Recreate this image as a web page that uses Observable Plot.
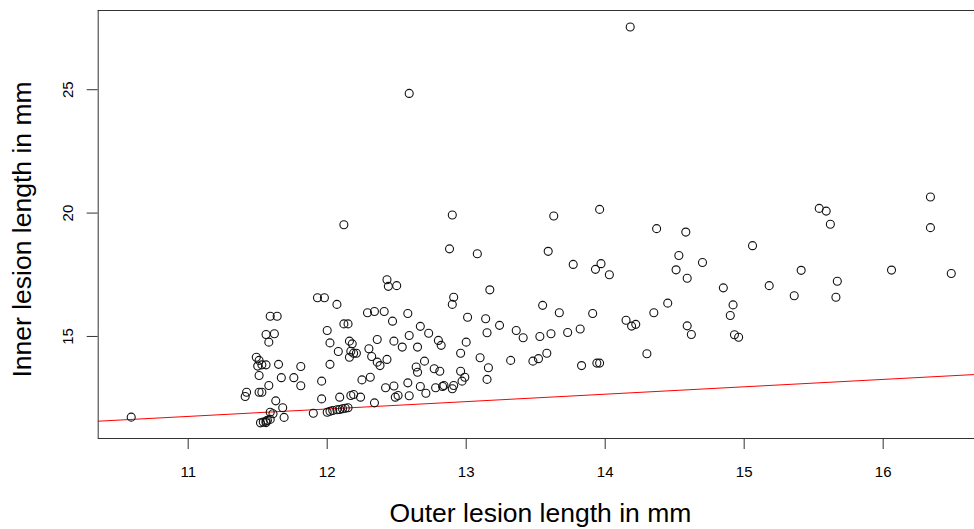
<!DOCTYPE html>
<html>
<head>
<meta charset="utf-8">
<script src="https://cdn.jsdelivr.net/npm/d3@7"></script>
<script src="https://cdn.jsdelivr.net/npm/@observablehq/plot@0.6"></script>
<style>
  html, body { margin: 0; padding: 0; background: #fff; overflow: hidden; }
  #chart svg { display: block; }
</style>
</head>
<body>
<div id="chart"></div>
<script>
// Outer lesion length (mm)
const outerLen = [
  10.59, 11.42, 11.41, 11.49, 11.51, 11.50, 11.53, 11.56, 11.51, 11.51,
  11.53, 11.58, 11.59, 11.64, 11.56, 11.62, 11.58, 11.65, 11.67, 11.76,
  11.81, 11.81, 11.63, 11.68, 11.59, 11.61, 11.69, 11.52, 11.54, 11.56,
  11.57, 11.59, 11.56, 11.90, 11.96, 11.96, 11.93, 11.98, 12.07, 12.12,
  12.15, 12.00, 12.02, 12.16, 12.18, 12.08, 12.17, 12.19, 12.21, 12.16,
  12.02, 12.09, 12.17, 12.19, 12.24, 12.25, 12.31, 12.29, 12.34, 12.41,
  12.47, 12.36, 12.48, 12.54, 12.30, 12.32, 12.36, 12.38, 12.43, 12.42,
  12.48, 12.58, 12.34, 12.49, 12.51, 12.59, 12.58, 12.59, 12.00, 12.02,
  12.04, 12.07, 12.09, 12.11, 12.13, 12.15, 12.43, 12.44, 12.50, 12.12,
  12.59, 12.90, 12.88, 13.08, 13.17, 12.91, 12.90, 13.01, 13.14, 13.24,
  12.67, 12.73, 13.15, 13.36, 13.41, 13.53, 13.61, 12.80, 12.82, 13.00,
  12.65, 12.96, 13.10, 13.32, 13.48, 13.52, 13.58, 12.70, 12.64, 12.65,
  12.77, 12.81, 12.96, 13.16, 12.99, 12.97, 13.15, 12.67, 12.78, 12.83,
  12.84, 12.90, 12.91, 12.71, 13.55, 13.67, 13.63, 13.59, 13.77, 13.96,
  14.37, 14.58, 15.06, 13.97, 13.93, 14.03, 14.53, 14.70, 14.51, 14.59,
  14.85, 15.18, 14.45, 14.92, 14.90, 13.91, 14.35, 14.15, 14.19, 14.22,
  14.59, 14.62, 14.93, 14.96, 13.73, 13.82, 14.30, 13.83, 13.94, 13.96,
  15.54, 15.59, 15.62, 16.34, 16.34, 15.41, 15.36, 15.67, 15.66, 16.06,
  16.49, 14.18
];
// Inner lesion length (mm)
const innerLen = [
  11.73, 12.74, 12.57, 14.16, 14.03, 13.80, 13.85, 13.85, 13.42, 12.74,
  12.74, 13.01, 15.82, 15.82, 15.08, 15.11, 14.77, 13.87, 13.33, 13.33,
  13.00, 13.78, 12.39, 12.11, 11.93, 11.87, 11.72, 11.50, 11.53, 11.57,
  11.60, 11.64, 11.51, 11.89, 13.19, 12.47, 16.57, 16.57, 16.30, 15.51,
  15.51, 15.24, 14.74, 14.81, 14.70, 14.39, 14.40, 14.32, 14.32, 14.16,
  13.87, 12.54, 12.61, 12.65, 12.54, 13.24, 13.35, 15.96, 16.01, 16.01,
  15.62, 14.88, 14.81, 14.57, 14.50, 14.19, 13.96, 13.82, 14.07, 12.92,
  12.99, 13.12, 12.31, 12.54, 12.61, 12.60, 15.93, 15.04, 11.93, 11.97,
  12.00, 12.03, 12.04, 12.07, 12.09, 12.11, 17.30, 17.03, 17.06, 19.53,
  24.85, 19.92, 18.55, 18.35, 16.89, 16.59, 16.30, 15.78, 15.72, 15.45,
  15.41, 15.13, 15.15, 15.24, 14.95, 15.00, 15.11, 14.84, 14.64, 14.77,
  14.57, 14.32, 14.14, 14.03, 14.00, 14.10, 14.32, 14.00, 13.76, 13.55,
  13.69, 13.59, 13.59, 13.73, 13.35, 13.19, 13.26, 12.97, 12.92, 12.97,
  13.01, 12.88, 13.01, 12.70, 16.26, 15.96, 19.88, 18.45, 17.92, 20.15,
  19.37, 19.23, 18.68, 17.95, 17.72, 17.50, 18.28, 18.00, 17.70, 17.36,
  16.97, 17.06, 16.35, 16.28, 15.85, 15.93, 15.96, 15.66, 15.42, 15.49,
  15.43, 15.08, 15.07, 14.97, 15.16, 15.30, 14.30, 13.82, 13.92, 13.92,
  20.19, 20.08, 19.55, 20.65, 19.41, 17.68, 16.65, 17.24, 16.59, 17.69,
  17.55, 27.54
];
// Tick labels
const xTicks = [11, 12, 13, 14, 15, 16];
const yTicks = [15, 20, 25];
// Reference line (red): inner = intercept + slope * outer
const lineIntercept = 8.46;
const lineSlope = 0.30;
const xTitle = "Outer lesion length in mm";
const yTitle = "Inner lesion length in mm";

const xDomain = [10.3525, 16.657];
const yDomain = [10.865, 28.21];

const points = outerLen.map((x, i) => ({x, y: innerLen[i]}));
const lineData = xDomain.map(x => ({x, y: lineIntercept + lineSlope * x}));

const font = "'Liberation Sans', Arial, Helvetica, sans-serif";

const chart = Plot.plot({
  width: 974,
  height: 529,
  marginLeft: 97.7,
  marginRight: 0,
  marginTop: 10,
  marginBottom: 91,
  style: {fontFamily: font, background: "#fff", color: "#000"},
  x: {domain: xDomain},
  y: {domain: yDomain},
  marks: [
    Plot.ruleY([yDomain[0], yDomain[1]], {stroke: "#333", strokeWidth: 1}),
    Plot.ruleX([xDomain[0]], {stroke: "#333", strokeWidth: 1}),
    Plot.axisX({ticks: xTicks, tickFormat: d => String(d), tickSize: 11, tickPadding: 17, fontSize: 15, label: null, stroke: "#333", fill: "#000"}),
    Plot.axisY({ticks: yTicks, tickFormat: d => String(d), tickSize: 11, tickPadding: 14, tickRotate: -90, fontSize: 15, label: null, stroke: "#333", fill: "#000"}),
    Plot.line(lineData, {x: "x", y: "y", stroke: "#ff0000", strokeWidth: 1}),
    Plot.dot(points, {x: "x", y: "y", r: 4, stroke: "#111", strokeWidth: 1.1, fill: "none"}),
    Plot.text([xTitle], {text: d => d, frameAnchor: "bottom", textAnchor: "middle", dx: 4, dy: 83, lineAnchor: "bottom", fontSize: 26.5, fill: "#000"}),
    Plot.text([yTitle], {text: d => d, frameAnchor: "left", textAnchor: "middle", dx: -67, dy: 5, rotate: -90, lineAnchor: "bottom", fontSize: 26.5, fill: "#000"})
  ]
});
document.getElementById("chart").appendChild(chart);
</script>
</body>
</html>
